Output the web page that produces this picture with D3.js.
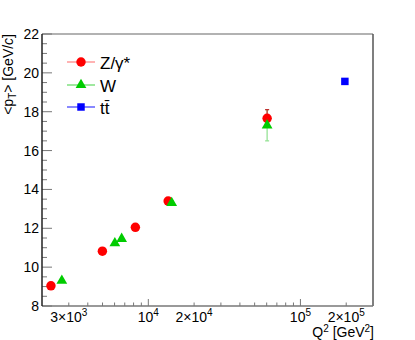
<!DOCTYPE html>
<html>
<head>
<meta charset="utf-8">
<script src="https://cdn.jsdelivr.net/npm/d3@7"></script>
<style>
  body { margin: 0; background: #fff; }
  text { font-family: "Liberation Sans", Arial, sans-serif; fill: #000; }
</style>
</head>
<body>
<div id="chart"></div>
<script>
// data
const zQ2  = [2290, 4990, 8220, 13500, 60400];
const zPt  = [9.04, 10.82, 12.05, 13.40, 17.66];
const zErr = [0.08, 0.08, 0.08, 0.1, 0.45];

const wQ2  = [2700, 6025, 6680, 14250, 60400];
const wPt  = [9.30, 11.23, 11.46, 13.31, 17.30];
const wErr = [0.08, 0.08, 0.08, 0.1, 0.8];

const ttQ2  = [196000];
const ttPt  = [19.56];
const ttErr = [0.1];

const xLabelTicks = [3000, 10000, 20000, 100000, 200000];
const yTicks = [8, 10, 12, 14, 16, 18, 20, 22];

//set svg parameters
const width = 415,
      height = 340;
const svg = d3.select("#chart")
  .append("svg")
    .attr("width", width)
    .attr("height", height);

const mLeft = 42, mRight = 373, mTop = 34, mBottom = 306;

const x = d3.scaleLog().domain([2000, 3e5]).range([mLeft, mRight]);
const y = d3.scaleLinear().domain([8, 22]).range([mBottom, mTop]);

// frame
svg.append("line").attr("x1", mLeft).attr("x2", mRight).attr("y1", mTop).attr("y2", mTop)
  .attr("stroke", "#999").attr("stroke-width", 1.5);
svg.append("line").attr("x1", mRight).attr("x2", mRight).attr("y1", mTop).attr("y2", mBottom)
  .attr("stroke", "#555").attr("stroke-width", 1.5);

// x minor/major ticks (inward)
const xMinor = [];
[1e3, 1e4, 1e5].forEach(dec => {
  for (let k = 2; k <= 9; k++) {
    const v = k * dec;
    if (v > 2000 && v < 3e5) xMinor.push(v);
  }
});
const xMajor = [1e4, 1e5];

const gx = svg.append("g").attr("transform", `translate(0,${mBottom})`);
gx.selectAll(".minor").data(xMinor).join("line")
  .attr("x1", d => x(d)).attr("x2", d => x(d))
  .attr("y1", 0).attr("y2", -3.5)
  .attr("stroke", "#777");
gx.selectAll(".major").data(xMajor).join("line")
  .attr("x1", d => x(d)).attr("x2", d => x(d))
  .attr("y1", 0).attr("y2", -7)
  .attr("stroke", "#777");
gx.append("line").attr("x1", mLeft).attr("x2", mRight).attr("stroke", "#777").attr("stroke-width", 1.5);

// x tick labels with superscripts
function sciParts(v) {
  const e = Math.floor(Math.log10(v) + 1e-9);
  const m = Math.round(v / Math.pow(10, e));
  return { m, e };
}
const xl = gx.selectAll(".xlab").data(xLabelTicks).join("text")
  .attr("class", "xlab")
  .attr("x", d => x(d))
  .attr("y", 16)
  .attr("text-anchor", "middle")
  .style("font-size", "14px");
xl.each(function(d) {
  const p = sciParts(d);
  const t = d3.select(this);
  t.append("tspan").text(p.m === 1 ? "10" : `${p.m}\u00d710`);
  t.append("tspan").attr("dy", -6).style("font-size", "10px").text(p.e);
});

// y axis
const gy = svg.append("g").attr("transform", `translate(${mLeft},0)`);
const yMinor = d3.range(8, 22.01, 0.5).filter(v => v % 2 !== 0);
gy.selectAll(".yminor").data(yMinor).join("line")
  .attr("y1", d => y(d)).attr("y2", d => y(d))
  .attr("x1", 0).attr("x2", 5)
  .attr("stroke", "#777");
gy.selectAll(".ymajor").data(yTicks).join("line")
  .attr("y1", d => y(d)).attr("y2", d => y(d))
  .attr("x1", 0).attr("x2", 10)
  .attr("stroke", "#777");
gy.append("line").attr("y1", mTop).attr("y2", mBottom).attr("stroke", "#222").attr("stroke-width", 1.5);
gy.selectAll(".ylab").data(yTicks).join("text")
  .attr("x", -3)
  .attr("y", d => y(d) + 5)
  .attr("text-anchor", "end")
  .style("font-size", "14px")
  .text(d => d);

// axis titles
const yt = svg.append("text")
  .attr("transform", `translate(13,${mTop}) rotate(-90)`)
  .attr("text-anchor", "end")
  .style("font-size", "14px");
yt.append("tspan").text("<p");
yt.append("tspan").attr("dy", 3).style("font-size", "10px").text("T");
yt.append("tspan").attr("dy", -3).text("> [GeV/");
yt.append("tspan").style("font-style", "italic").text("c");
yt.append("tspan").text("]");

const xt = svg.append("text")
  .attr("x", mRight + 1)
  .attr("y", 337)
  .attr("text-anchor", "end")
  .style("font-size", "14px");
xt.append("tspan").text("Q");
xt.append("tspan").attr("dy", -5).style("font-size", "10px").text("2");
xt.append("tspan").attr("dy", 5).text(" [GeV");
xt.append("tspan").attr("dy", -5).style("font-size", "10px").text("2");
xt.append("tspan").attr("dy", 5).text("]");

// series
const series = [
  { name: "Z/\u03b3*", q2: zQ2, pt: zPt, err: zErr, color: "#ff0000", bar: "#c03030", line: "#ff9a9a",
    sym: d3.symbolCircle, size: 70 },
  { name: "W", q2: wQ2, pt: wPt, err: wErr, color: "#00cc00", bar: "#8ee08e", line: "#80e080",
    sym: d3.symbolTriangle, size: 50 },
  { name: "tt\u0304", q2: ttQ2, pt: ttPt, err: ttErr, color: "#0000ff", bar: "#6060ff", line: "#6060ff",
    sym: d3.symbolSquare, size: 56 }
];

// error bars first (W behind Z)
[series[1], series[0], series[2]].forEach(s => {
  const pts = s.q2.map((q, i) => ({ q, v: s.pt[i], e: s.err[i] }));
  const g = svg.append("g").attr("stroke", s.bar).attr("stroke-width", 1.2);
  g.selectAll(".eb").data(pts).join("line")
    .attr("x1", d => x(d.q)).attr("x2", d => x(d.q))
    .attr("y1", d => y(d.v - d.e)).attr("y2", d => y(d.v + d.e));
  g.selectAll(".cap").data(pts.flatMap(d => [d.v - d.e, d.v + d.e].map(v => ({ q: d.q, v }))))
    .join("line")
    .attr("x1", d => x(d.q) - 2).attr("x2", d => x(d.q) + 2)
    .attr("y1", d => y(d.v)).attr("y2", d => y(d.v));
});

series.forEach(s => {
  const pts = s.q2.map((q, i) => ({ q, v: s.pt[i] }));
  svg.append("g").selectAll("path").data(pts).join("path")
    .attr("d", d3.symbol(s.sym, s.size))
    .attr("transform", d => `translate(${x(d.q)},${y(d.v)})`)
    .attr("fill", s.color);
});

// legend
const lg = svg.append("g");
const legY = [62, 85, 107];
series.forEach((s, i) => {
  lg.append("line").attr("x1", 67).attr("x2", 95).attr("y1", legY[i]).attr("y2", legY[i])
    .attr("stroke", s.line).attr("stroke-width", 1.5);
  lg.append("path").attr("d", d3.symbol(s.sym, s.size)())
    .attr("transform", `translate(81,${legY[i]})`).attr("fill", s.color);
  lg.append("text").attr("x", 100).attr("y", legY[i] + 6.5)
    .style("font-size", "17px")
    .text(s.name);
});
</script>
</body>
</html>
